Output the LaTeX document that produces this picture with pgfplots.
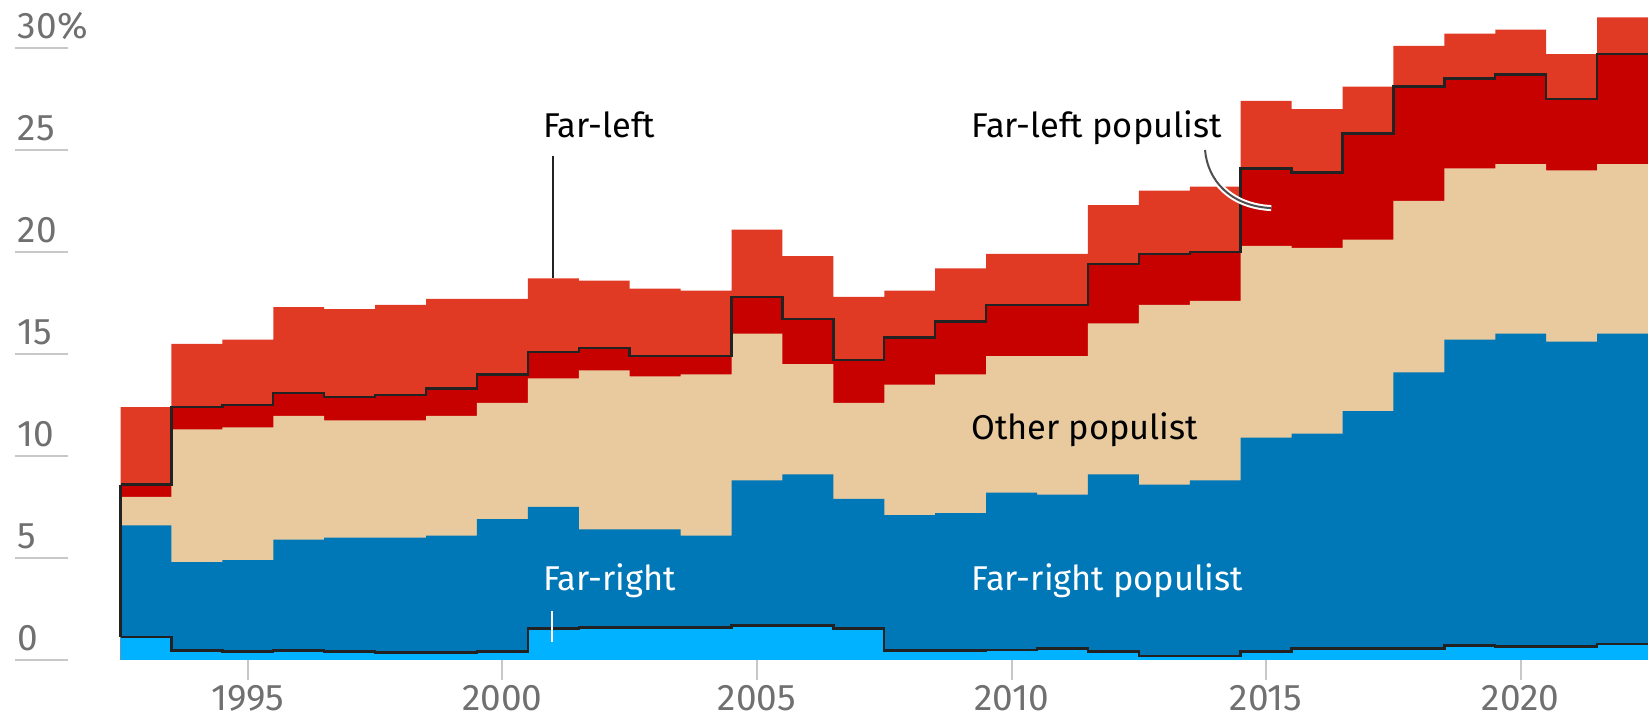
\documentclass[border=0pt]{standalone}
\usepackage{fontspec}
\setmainfont{Fira Sans}
\usepackage{pgfplots}
\pgfplotsset{compat=1.18}
\usepackage{pgfplotstable}
\definecolor{farleft}{RGB}{224,57,36}
\definecolor{farleftpop}{RGB}{199,0,0}
\definecolor{otherpop}{RGB}{233,202,159}
\definecolor{farrightpop}{RGB}{0,119,182}
\definecolor{farright}{RGB}{0,178,255}
\definecolor{ticklab}{RGB}{112,112,112}
\definecolor{gridc}{RGB}{200,200,200}
\definecolor{outline}{RGB}{34,34,34}

% x = years since 1990 (left edge of each yearly step);
% cumulative tops of each layer (per cent of vote)
\pgfplotstableread{
x     fr    frp   op     flp   fl
2.5   1.13  6.6   8.0    8.6   12.4
3.5   0.46  4.8   11.3   12.4  15.5
4.5   0.41  4.9   11.4   12.5  15.7
5.5   0.46  5.9   11.96  13.1  17.3
6.5   0.41  6.0   11.75  12.9  17.2
7.5   0.36  6.0   11.75  13.0  17.4
8.5   0.36  6.1   11.96  13.3  17.7
9.5   0.41  6.9   12.6   14.0  17.7
10.5  1.55  7.5   13.8   15.1  18.7
11.5  1.6   6.4   14.2   15.3  18.6
12.5  1.6   6.4   13.9   14.9  18.2
13.5  1.6   6.1   14.0   14.9  18.1
14.5  1.7   8.8   16.0   17.8  21.1
15.5  1.7   9.1   14.5   16.7  19.8
16.5  1.55  7.9   12.6   14.7  17.8
17.5  0.46  7.1   13.5   15.8  18.1
18.5  0.46  7.2   14.0   16.6  19.2
19.5  0.5   8.2   14.9   17.4  19.9
20.5  0.57  8.1   14.9   17.4  19.9
21.5  0.41  9.1   16.5   19.4  22.3
22.5  0.2   8.6   17.4   19.9  23.0
23.5  0.2   8.8   17.6   20.0  23.2
24.5  0.41  10.9  20.3   24.1  27.4
25.5  0.57  11.1  20.2   23.9  27.0
26.5  0.57  12.2  20.6   25.8  28.1
27.5  0.57  14.1  22.5   28.1  30.1
28.5  0.72  15.7  24.1   28.5  30.7
29.5  0.67  16.0  24.3   28.7  30.9
30.5  0.67  15.6  24.0   27.5  29.7
31.5  0.77  16.0  24.3   29.7  31.5
32.5  0.77  16.0  24.3   29.7  31.5
}\data

\newcommand{\lab}{\fontsize{17.2}{20}\selectfont}

\begin{document}
\begin{tikzpicture}
\foreach \v in {0,5,10,15,20,25,30}
  \draw[gridc, line width=1pt] (7.5pt,{30.5pt+\v*10.2009pt}) -- ++(26.5pt,0);
\begin{axis}[
  at={(60.25pt,30.5pt)}, anchor=south west,
  scale only axis, width=763.75pt, height=330pt,
  xmin=2.5, xmax=32.5, ymin=0, ymax=32.35,
  axis x line*=bottom, axis y line*=left,
  axis line style={draw=none},
  xtick={5,10,15,20,25,30},
  xticklabels={1995,2000,2005,2010,2015,2020},
  ytick={0,5,10,15,20,25,30},
  yticklabels={0,5,10,15,20,25,30\%},
  tick align=outside,
  xtick style={draw=gridc, line width=1pt},
  ytick style={draw=none},
  major tick length=10pt,
  ticklabel style={font=\fontsize{18.5}{22}\selectfont, text=ticklab},
  xticklabel style={anchor=north, inner sep=0pt, yshift=-2.5pt},
  yticklabel style={anchor=base west, inner sep=0pt, xshift=-41.5pt, yshift=4.5pt},
  clip=false,
]
\addplot[const plot mark left, fill=farleft, draw=none] table[x=x,y=fl]{\data} \closedcycle;
\addplot[const plot mark left, fill=farleftpop, draw=none] table[x=x,y=flp]{\data} \closedcycle;
\addplot[const plot mark left, fill=otherpop, draw=none] table[x=x,y=op]{\data} \closedcycle;
\addplot[const plot mark left, fill=farrightpop, draw=none] table[x=x,y=frp]{\data} \closedcycle;
\addplot[const plot mark left, fill=farright, draw=none] table[x=x,y=fr]{\data} \closedcycle;
\addplot[const plot mark left, draw=outline, line width=1.2pt] table[x=x,y=flp]{\data};
\addplot[const plot mark left, draw=outline, line width=1.2pt] table[x=x,y=fr]{\data};
\addplot[sharp plot, draw=outline, line width=1.2pt] coordinates {(2.5,1.13) (2.5,8.6)};

% annotations
\draw[outline, line width=1pt] (axis cs:11.0,24.7) -- (axis cs:11.0,18.7);
\draw[white, line width=1.2pt] (axis cs:10.98,2.4) -- (axis cs:10.98,0.9);
\draw[white, line width=3pt] (axis cs:23.8,25.0) .. controls (axis cs:23.85,23.5) and (axis cs:24.3,22.25) .. (axis cs:25.1,22.15);
\draw[outline!80, line width=1pt] (axis cs:23.8,25.0) .. controls (axis cs:23.85,23.5) and (axis cs:24.3,22.25) .. (axis cs:25.1,22.15);

\node[anchor=base west, inner sep=0pt, text=black, font=\lab] at (axis cs:10.79,25.6) {Far-left};
\node[anchor=base west, inner sep=0pt, text=black, font=\lab] at (axis cs:19.2,25.6) {Far-left populist};
\node[anchor=base west, inner sep=0pt, text=black, font=\lab] at (axis cs:19.2,10.8) {Other populist};
\node[anchor=base west, inner sep=0pt, text=white, font=\lab] at (axis cs:19.2,3.4) {Far-right populist};
\node[anchor=base west, inner sep=0pt, text=white, font=\lab] at (axis cs:10.79,3.4) {Far-right};
\end{axis}
\pgfresetboundingbox
\useasboundingbox (0,0) rectangle (824pt,360.5pt);
\end{tikzpicture}
\end{document}
